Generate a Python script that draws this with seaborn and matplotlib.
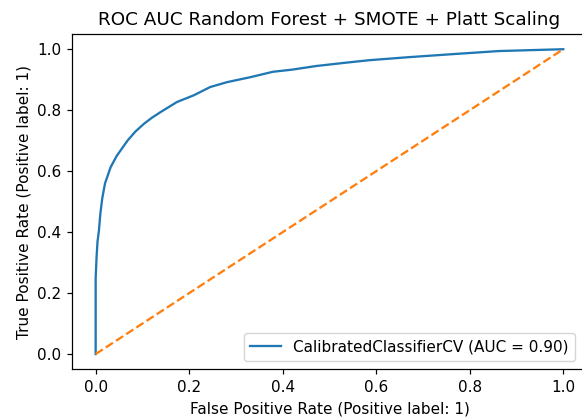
import matplotlib
matplotlib.use("Agg")
import matplotlib.pyplot as plt
import seaborn as sns
import pandas as pd

# ROC curve of the calibrated random forest (false / true positive rates)
fpr = [0.0, 0.0, 0.002, 0.004, 0.007, 0.010, 0.014, 0.020, 0.032, 0.045,
       0.068, 0.085, 0.103, 0.120, 0.139, 0.174, 0.210, 0.245, 0.281, 0.330,
       0.379, 0.420, 0.472, 0.530, 0.585, 0.670, 0.755, 0.862, 0.930, 1.0]
tpr = [0.0, 0.25, 0.32, 0.37, 0.405, 0.46, 0.51, 0.56, 0.613, 0.65,
       0.70, 0.73, 0.755, 0.775, 0.794, 0.827, 0.849, 0.876, 0.892, 0.908,
       0.926, 0.933, 0.945, 0.955, 0.964, 0.974, 0.983, 0.994, 0.997, 1.0]
auc_value = 0.90
model_name = "CalibratedClassifierCV"

chance_x = [0.0, 1.0]
chance_y = [0.0, 1.0]

roc = pd.DataFrame({"fpr": fpr, "tpr": tpr})
chance = pd.DataFrame({"x": chance_x, "y": chance_y})

scale = 1.1
plt.rcParams.update({
    "axes.linewidth": 0.8 * scale,
    "xtick.major.size": 3.5 * scale,
    "ytick.major.size": 3.5 * scale,
    "xtick.major.width": 0.8 * scale,
    "ytick.major.width": 0.8 * scale,
    "xtick.major.pad": 3.5 * scale,
    "ytick.major.pad": 3.5 * scale,
    "axes.labelpad": 4.0 * scale,
    "axes.titlepad": 6.0 * scale,
})

fig = plt.figure(figsize=(5.82, 4.18), dpi=100)
ax = fig.add_axes([0.1242, 0.1165, 0.8838, 0.8022])

sns.lineplot(data=roc, x="fpr", y="tpr", sort=False, estimator=None,
             color="C0", linewidth=1.5 * scale, ax=ax,
             label=f"{model_name} (AUC = {auc_value:.2f})")
sns.lineplot(data=chance, x="x", y="y", sort=False, estimator=None,
             color="C1", linestyle="--", linewidth=1.5 * scale, ax=ax)

ax.set_xlabel("False Positive Rate (Positive label: 1)", fontsize=10 * scale)
ax.set_ylabel("True Positive Rate (Positive label: 1)", fontsize=10 * scale)
ax.set_title("ROC AUC Random Forest + SMOTE + Platt Scaling", fontsize=12 * scale)
ax.set_xticks([0.0, 0.2, 0.4, 0.6, 0.8, 1.0])
ax.set_yticks([0.0, 0.2, 0.4, 0.6, 0.8, 1.0])
ax.tick_params(labelsize=10 * scale)

handles, labels = ax.get_legend_handles_labels()
ax.legend(handles[:1], labels[:1], loc="lower right",
          bbox_to_anchor=(0.977, 0.026), borderaxespad=0, fontsize=10 * scale)

fig.savefig("out.png", dpi=100)
